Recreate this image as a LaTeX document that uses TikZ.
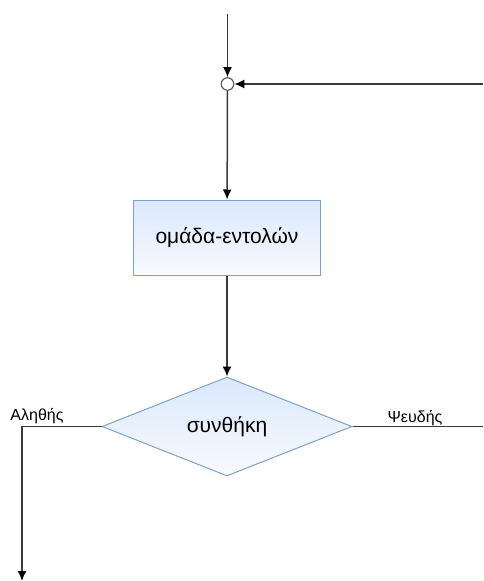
\documentclass[tikz,border=0pt]{standalone}
\usepackage{fontspec}
\setmainfont{Liberation Sans}
\usetikzlibrary{shapes.geometric,arrows.meta,positioning}
\definecolor{flowblue}{HTML}{DAE8FC}
\definecolor{flowborder}{HTML}{7EA0CE}
\definecolor{flowline}{HTML}{3A3A3A}

\begin{document}
\begin{tikzpicture}[x=1pt,y=-1pt,
    line/.style={draw=flowline,line width=1.5pt},
    arrow/.style={line,-{Latex[length=10pt,width=9pt,color=black]}},
    block/.style={draw=flowborder,line width=1pt,top color=flowblue,bottom color=flowblue!20!white,
        minimum width=187pt,minimum height=75pt,inner sep=0pt,font=\fontsize{21}{25}\selectfont},
    decision/.style={diamond,aspect=2.5,draw=flowborder,line width=1pt,top color=flowblue,bottom color=flowblue!20!white,
        minimum width=250pt,minimum height=99pt,inner sep=0pt,font=\fontsize{21}{25}\selectfont},
    branchtext/.style={anchor=base,inner sep=0pt,font=\fontsize{16}{19}\selectfont}]
    \useasboundingbox (0,0) rectangle (483,581);

    % Loop entry and back edge
    \coordinate (start) at (227.5,14);
    \coordinate (back) at (483,84);
    \node[circle,draw=flowline!80,fill=white,line width=1.2pt,minimum size=12.5pt,inner sep=0pt] (join) at (227.5,84) {};

    % Body and condition
    \node[block] (body) at (227,237.5) {ομάδα-εντολών};
    \node[decision] (cond) at (227,426.5) {συνθήκη};

    % Branch ends
    \coordinate (yes) at (22,426.5);
    \coordinate (exit) at (22,581);
    \coordinate (no) at (483,426.5);
    \node[branchtext] (truetext) at (37,420) {Αληθής};
    \node[branchtext] (falsetext) at (415,422) {Ψευδής};

    % Edges
    \draw[arrow] (start) -- (join);
    \draw[arrow] (back) -- (join);
    \draw[arrow] (join) -- (body);
    \draw[arrow] (body) -- (cond);
    \draw[arrow] (cond.west) -- (yes) -- (exit);
    \draw[line] (cond.east) -- (no);
\end{tikzpicture}
\end{document}
